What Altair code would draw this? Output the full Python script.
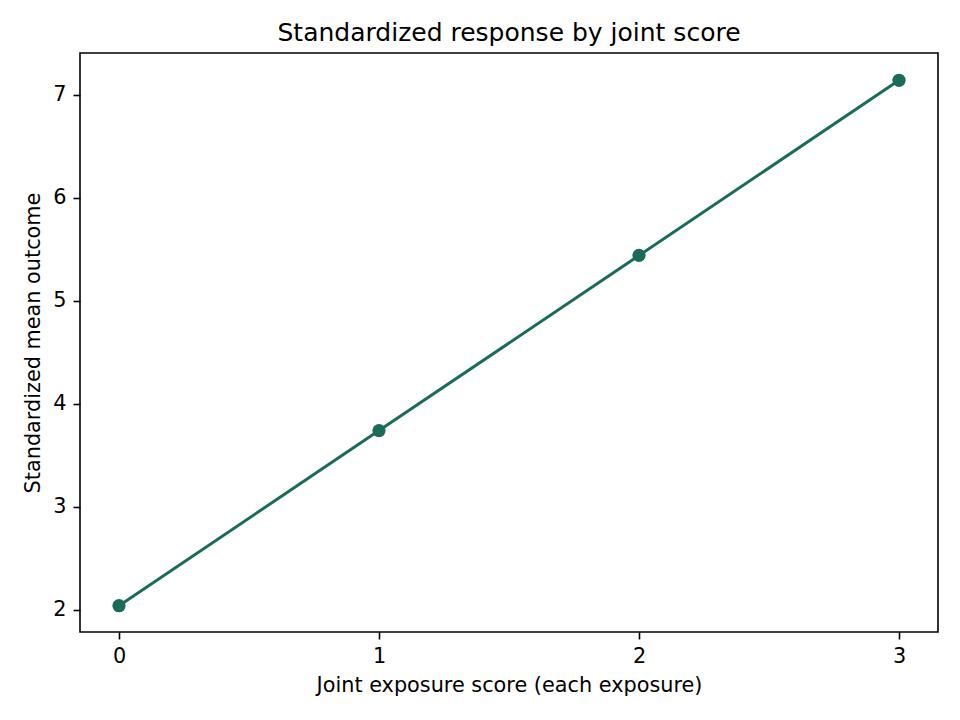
import altair as alt
import pandas as pd

scores = [0, 1, 2, 3]
means = [2.04, 3.74, 5.44, 7.14]

df = pd.DataFrame({"score": scores, "mean": means})
color = "#1b6b5a"
font = "DejaVu Sans"

axis_common = dict(format="d", grid=False, tickSize=7, tickWidth=1.6, tickColor="black",
                   domain=False, labelFont=font, labelFontSize=20.8, labelColor="black",
                   titleFont=font, titleFontSize=20.8, titleFontWeight="normal",
                   titleColor="black", labelPadding=7)

x = alt.X("score:Q", scale=alt.Scale(domain=[-0.15, 3.15], nice=False, zero=False),
          axis=alt.Axis(title="Joint exposure score (each exposure)", values=[0, 1, 2, 3],
                        titlePadding=10, **axis_common))
y = alt.Y("mean:Q", scale=alt.Scale(domain=[1.785, 7.405], nice=False, zero=False),
          axis=alt.Axis(title="Standardized mean outcome", values=[2, 3, 4, 5, 6, 7],
                        titlePadding=9, **axis_common))

base = alt.Chart(df).encode(x=x, y=y)
line = base.mark_line(color=color, strokeWidth=3)
pts = base.mark_point(color=color, filled=True, opacity=1, size=175)

chart = (line + pts).properties(
    width=858, height=579,
    title=alt.Title("Standardized response by joint score", font=font, fontSize=25,
                    fontWeight="normal", color="black", offset=7),
    autosize=alt.AutoSizeParams(type="none"),
    padding={"left": 80, "top": 53, "right": 22, "bottom": 88},
).configure(background="white").configure_view(stroke="black", strokeWidth=1.6)

chart.save("out.html", embed_options={"renderer": "svg", "actions": False})
